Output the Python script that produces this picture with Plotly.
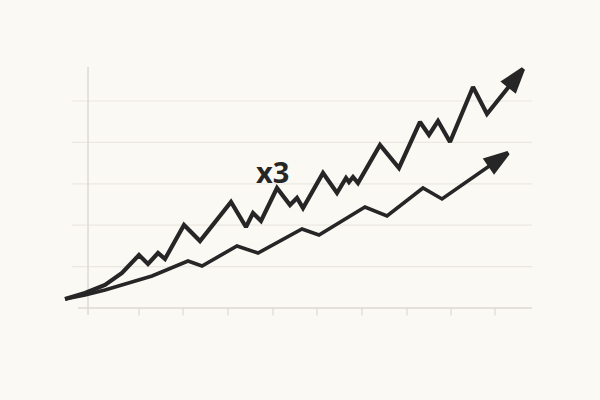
import plotly.graph_objects as go

# Data (x: period index, y: value in grid units)
upper_x = [-0.531, -0.088, 0.354, 0.730, 1.106, 1.305, 1.527, 1.681, 2.102, 2.456,
           3.142, 3.473, 3.628, 3.805, 4.159, 4.447, 4.602, 4.735, 5.177, 5.487, 5.686,
           5.752, 5.841, 5.951, 6.438, 6.858, 7.323, 7.522, 7.721, 7.987, 8.496, 8.805, 9.602]
upper_y = [0.217, 0.362, 0.556, 0.845, 1.280, 1.063, 1.329, 1.184, 2.005, 1.618,
           2.560, 1.957, 2.295, 2.101, 2.899, 2.488, 2.657, 2.415, 3.261, 2.778, 3.140,
           3.043, 3.164, 3.019, 3.937, 3.382, 4.493, 4.179, 4.517, 4.010, 5.338, 4.686, 5.773]

lower_x = [-0.531, -0.088, 0.354, 0.796, 1.394, 2.190, 2.500, 3.274, 3.739, 4.712, 5.088,
           6.106, 6.593, 7.389, 7.810, 9.270]
lower_y = [0.217, 0.314, 0.435, 0.580, 0.773, 1.135, 1.014, 1.498, 1.329, 1.908, 1.763,
           2.440, 2.222, 2.899, 2.633, 3.744]

grid_values = [1, 2, 3, 4, 5]
tick_values = [-0.022, 1.106, 2.080, 3.075, 4.071, 5.044, 6.040, 7.035, 8.009, 8.982]
label_text = "x3"
label_pos = (4.06, 3.30)

LINE = "#262626"
BG = "#fbf9f4"
GRID = "#ebe8e1"
AXIS = "#dcd9d2"

fig = go.Figure()

shapes = []
for g in grid_values:
    shapes.append(dict(type="line", xref="x", yref="y", x0=-0.376, x1=9.80, y0=g, y1=g,
                       line=dict(color=GRID, width=1.2), layer="below"))
shapes.append(dict(type="line", xref="x", yref="y", x0=-0.243, x1=9.80, y0=0, y1=0,
                   line=dict(color=AXIS, width=1.5), layer="below"))
shapes.append(dict(type="line", xref="x", yref="y", x0=-0.022, x1=-0.022, y0=-0.17, y1=5.82,
                   line=dict(color=AXIS, width=1.5), layer="below"))
for t in tick_values[1:]:
    shapes.append(dict(type="line", xref="x", yref="y", x0=t, x1=t, y0=0, y1=-0.18,
                       line=dict(color=AXIS, width=1.2), layer="below"))

def add_arrow_line(xs, ys, width, head):
    fig.add_trace(go.Scatter(x=xs, y=ys, mode="lines",
                             line=dict(color=LINE, width=width),
                             hoverinfo="skip", showlegend=False))
    fig.add_trace(go.Scatter(x=xs[-2:], y=ys[-2:], mode="markers",
                             marker=dict(symbol="arrow", angleref="previous",
                                         size=[0, head], color=LINE, opacity=1,
                                         line=dict(color=LINE, width=4)),
                             hoverinfo="skip", showlegend=False))

add_arrow_line(lower_x, lower_y, 3.6, 23)
add_arrow_line(upper_x, upper_y, 4.2, 23)

fig.add_annotation(x=label_pos[0], y=label_pos[1], text=label_text, showarrow=False,
                   font=dict(family="Open Sans", size=29, color=LINE, weight="bold"))

fig.update_layout(
    width=600, height=400,
    margin=dict(l=40, r=40, t=40, b=60),
    paper_bgcolor=BG, plot_bgcolor=BG,
    shapes=shapes,
    xaxis=dict(range=[-1.0841, 10.4204], visible=False),
    yaxis=dict(range=[-0.7729, 6.4734], visible=False),
)

fig.write_html("out.html", config={"displayModeBar": False},
               post_script="document.body.style.margin='0';document.body.style.background='%s';" % BG)
